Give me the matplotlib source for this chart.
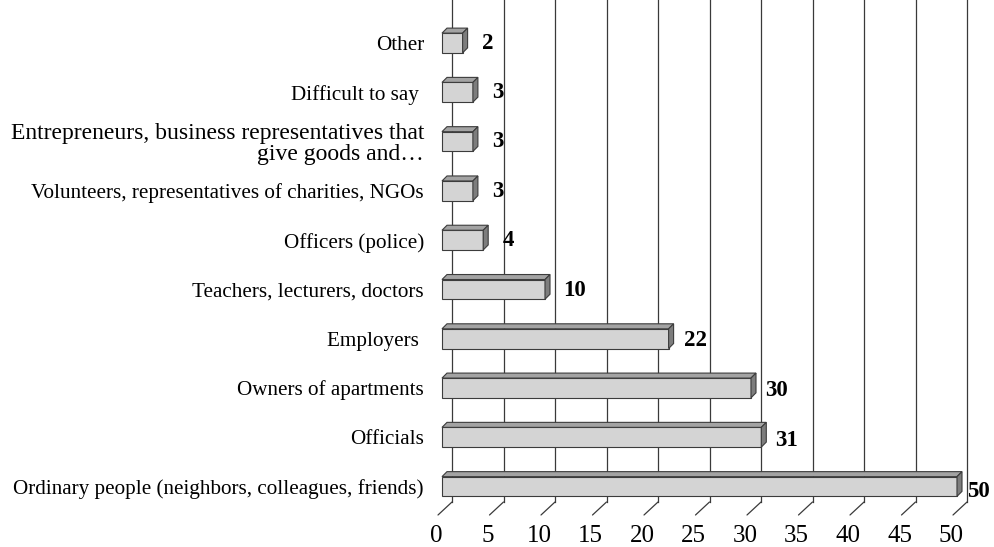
import matplotlib
matplotlib.use('Agg')
import matplotlib.pyplot as plt
from matplotlib.patches import Polygon
from matplotlib.transforms import ScaledTranslation

categories = [
    "Ordinary people (neighbors, colleagues, friends)",
    "Officials",
    "Owners of apartments",
    "Employers ",
    "Teachers, lecturers, doctors",
    "Officers (police)",
    "Volunteers, representatives of charities, NGOs",
    "Entrepreneurs, business representatives that\ngive goods and\u2026",
    "Difficult to say ",
    "Other",
]
values = [50, 31, 30, 22, 10, 4, 3, 3, 3, 2]
xticks = [0, 5, 10, 15, 20, 25, 30, 35, 40, 45, 50]

plt.rcParams['font.family'] = ['Liberation Serif', 'DejaVu Serif']

W, H, DPI = 995, 547, 100
fig = plt.figure(figsize=(W / DPI, H / DPI), dpi=DPI)

# axes placed in pixels: front face x=0 at 442, x=50 at 957
left, right = 442, 957
bottom, top = 45, 547
ylo, yhi = -0.3145, 9.872
ax = fig.add_axes([left / W, bottom / H, (right - left) / W, (top - bottom) / H])
ax.set_xlim(0, 50)
ax.set_ylim(ylo, yhi)
for s in ax.spines.values():
    s.set_visible(False)

px_x = (right - left) / 50.0
px_y = (top - bottom) / (yhi - ylo)

# back wall grid lines, shifted into the depth
wall = ax.transData + ScaledTranslation(10 / DPI, 0, fig.dpi_scale_trans)
for t in xticks:
    ax.plot([t, t], [ylo, yhi], color='#3a3a3a', lw=0.9, transform=wall,
            clip_on=False, zorder=1)
    # diagonal floor ticks
    ax.annotate('', xy=(t, ylo), xycoords=wall, xytext=(-14, -13),
                textcoords='offset pixels',
                arrowprops=dict(arrowstyle='-', color='#3a3a3a', lw=0.9,
                                shrinkA=0, shrinkB=0))

# 3d-looking bars
h = 0.4
dx = 5 / px_x
dy = 5 / px_y
ypos = list(range(len(values)))
ax.barh(ypos, values, height=h, color='#d4d4d4', edgecolor='#3c3c3c', lw=0.8,
        zorder=3, clip_on=False)
for y, v in zip(ypos, values):
    yt, yb = y + h / 2, y - h / 2
    ax.add_patch(Polygon([(0, yt), (v, yt), (v + dx, yt + dy), (dx, yt + dy)],
                         closed=True, facecolor='#a3a3a3', edgecolor='#3c3c3c',
                         lw=0.8, zorder=3, clip_on=False))
    ax.add_patch(Polygon([(v, yb), (v, yt), (v + dx, yt + dy), (v + dx, yb + dy)],
                         closed=True, facecolor='#7d7d7d', edgecolor='#3c3c3c',
                         lw=0.8, zorder=3, clip_on=False))
    ax.annotate(str(v), xy=(v, y), xytext=(20 - 0.2 * v, -0.1 * v),
                textcoords='offset pixels', ha='left', va='center',
                fontsize=16.5, fontweight='bold', color='black',
                annotation_clip=False)

ax.set_yticks(ypos)
ax.set_yticklabels(categories, fontsize=15.2)
ax.tick_params(axis='y', length=0, pad=13)
for lab, c in zip(ax.get_yticklabels(), categories):
    lab.set_multialignment('right')
    lab.set_linespacing(1.0)
    if c.startswith('Entrepreneurs'):
        lab.set_fontsize(17)

ax.set_xticks(xticks)
ax.set_xticklabels([str(t) for t in xticks], fontsize=18)
ax.tick_params(axis='x', length=0, pad=16.5)
shift = ScaledTranslation(-6 / DPI, 0, fig.dpi_scale_trans)
for lab in ax.get_xticklabels():
    lab.set_transform(lab.get_transform() + shift)

fig.savefig('out.png', dpi=DPI, facecolor='white')
